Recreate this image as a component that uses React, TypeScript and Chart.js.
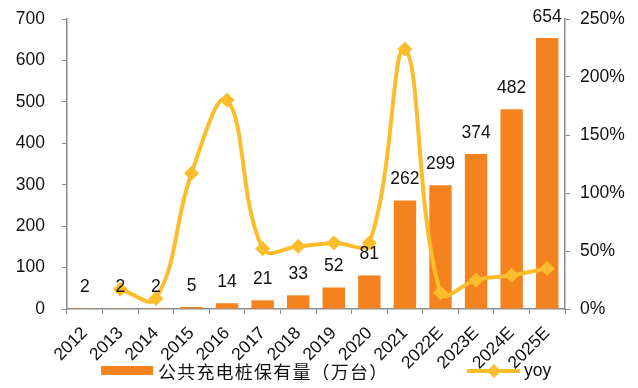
import React, { useEffect, useRef } from "react";
import { Chart, registerables } from "chart.js";

Chart.register(...registerables);

const categories = ["2012", "2013", "2014", "2015", "2016", "2017", "2018", "2019", "2020", "2021", "2022E", "2023E", "2024E", "2025E"];
const pilesStock = [2, 2, 2, 5, 14, 21, 33, 52, 81, 262, 299, 374, 482, 654];
const yoyPercent = [null, 17, 9, 117, 180, 52, 54, 57, 57, 224, 14, 25, 29, 35];
const leftTicksMax = 700;
const rightTicksMax = 250;
const barLabel = "公共充电桩保有量（万台）";
const lineLabel = "yoy";

const BAR_COLOR = "#F4831F";
const LINE_COLOR = "#FCBD2C";
const AXIS_COLOR = "#8C8C8C";
const TEXT_COLOR = "#111111";
const FONT = "'Liberation Sans', Arial, sans-serif";
const CJK_FONT = "'Noto Sans CJK SC', 'Liberation Sans', sans-serif";

const valueLabelPlugin = {
  id: "valueLabels",
  afterDatasetsDraw(chart: any) {
    const ctx = chart.ctx;
    const meta = chart.getDatasetMeta(0);
    ctx.save();
    ctx.font = `17.5px ${FONT}`;
    ctx.fillStyle = TEXT_COLOR;
    ctx.textAlign = "center";
    ctx.textBaseline = "middle";
    meta.data.forEach((bar: any, i: number) => {
      ctx.fillText(String(pilesStock[i]), bar.x, bar.y - 21);
    });
    ctx.restore();
  },
};

const customLegendPlugin = {
  id: "customLegend",
  afterDraw(chart: any) {
    const ctx = chart.ctx;
    ctx.save();
    // bar legend
    ctx.fillStyle = BAR_COLOR;
    ctx.fillRect(93, 358, 52, 9);
    ctx.fillStyle = TEXT_COLOR;
    ctx.font = `18px ${CJK_FONT}`;
    ctx.textAlign = "left";
    ctx.textBaseline = "middle";
    try {
      (ctx as any).letterSpacing = "1.2px";
    } catch (e) {}
    ctx.fillText(barLabel, 150, 364);
    try {
      (ctx as any).letterSpacing = "0px";
    } catch (e) {}
    // line legend
    ctx.strokeStyle = LINE_COLOR;
    ctx.lineWidth = 4;
    ctx.beginPath();
    ctx.moveTo(459, 363);
    ctx.lineTo(512, 363);
    ctx.stroke();
    ctx.fillStyle = LINE_COLOR;
    ctx.beginPath();
    ctx.moveTo(486, 356);
    ctx.lineTo(493, 363);
    ctx.lineTo(486, 370);
    ctx.lineTo(479, 363);
    ctx.closePath();
    ctx.fill();
    ctx.fillStyle = TEXT_COLOR;
    ctx.font = `17.5px ${FONT}`;
    ctx.fillText(lineLabel, 516, 363);
    ctx.restore();
  },
};

export default function App() {
  const canvasRef = useRef<HTMLCanvasElement | null>(null);

  useEffect(() => {
    if (!canvasRef.current) return;
    const chart = new Chart(canvasRef.current, {
      type: "bar",
      data: {
        labels: categories,
        datasets: [
          {
            type: "bar",
            label: barLabel,
            data: pilesStock,
            backgroundColor: BAR_COLOR,
            yAxisID: "y",
            barPercentage: 0.63,
            categoryPercentage: 1,
            order: 2,
          },
          {
            type: "line",
            label: lineLabel,
            data: yoyPercent as any,
            borderColor: LINE_COLOR,
            backgroundColor: LINE_COLOR,
            borderWidth: 4,
            tension: 0.4,
            pointStyle: "rectRot",
            pointRadius: 7,
            pointBackgroundColor: LINE_COLOR,
            pointBorderColor: LINE_COLOR,
            pointBorderWidth: 1,
            yAxisID: "y1",
            order: 1,
          },
        ],
      },
      options: {
        animation: false,
        responsive: true,
        maintainAspectRatio: false,
        layout: { padding: { top: 11, left: 0, right: 0, bottom: 0 } },
        plugins: {
          legend: { display: false },
          tooltip: { enabled: false },
        },
        scales: {
          x: {
            grid: {
              display: true,
              drawOnChartArea: false,
              drawTicks: true,
              tickLength: 5,
              color: AXIS_COLOR,
              offset: true,
            },
            border: { display: true, color: AXIS_COLOR, width: 1.5 },
            ticks: {
              autoSkip: false,
              maxRotation: 45,
              minRotation: 45,
              color: TEXT_COLOR,
              font: { family: FONT, size: 17.5 },
              padding: 9,
            },
            afterFit(scale: any) {
              scale.height = 71;
            },
          },
          y: {
            position: "left",
            min: 0,
            max: leftTicksMax,
            ticks: {
              stepSize: 100,
              color: TEXT_COLOR,
              font: { family: FONT, size: 17.5 },
              padding: 17,
            },
            grid: {
              drawOnChartArea: false,
              drawTicks: true,
              tickLength: 5,
              color: AXIS_COLOR,
            },
            border: { display: true, color: AXIS_COLOR, width: 1.5 },
            afterFit(scale: any) {
              scale.width = 59;
              scale.paddingTop = 8;
              scale.paddingBottom = 8;
            },
          },
          y1: {
            position: "right",
            min: 0,
            max: rightTicksMax,
            ticks: {
              stepSize: 50,
              color: TEXT_COLOR,
              font: { family: FONT, size: 17.5 },
              padding: 10,
              callback: (v: any) => `${v}%`,
            },
            grid: {
              drawOnChartArea: false,
              drawTicks: true,
              tickLength: 5,
              color: AXIS_COLOR,
            },
            border: { display: true, color: AXIS_COLOR, width: 1.5 },
            afterFit(scale: any) {
              scale.width = 65;
              scale.paddingTop = 8;
              scale.paddingBottom = 8;
            },
          },
        },
      },
      plugins: [valueLabelPlugin, customLegendPlugin],
    });
    return () => chart.destroy();
  }, []);

  return (
    <div style={{ position: "relative", width: 622, height: 372 }}>
      <canvas ref={canvasRef} />
    </div>
  );
}
